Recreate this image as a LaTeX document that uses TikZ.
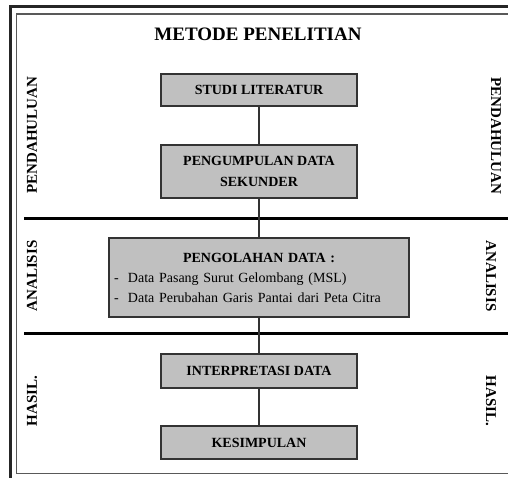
\documentclass[tikz,border=0pt]{standalone}
\usepackage{fontspec}
\setmainfont{Liberation Serif}
\usetikzlibrary{positioning}
\definecolor{boxgray}{RGB}{192,192,192}
\tikzset{
  stepbox/.style={draw=black!80, line width=1.3pt, fill=boxgray, minimum width=196pt, inner sep=2pt, align=center, font=\fontsize{14}{21}\selectfont\bfseries},
  link/.style={draw=black!80, line width=1.8pt},
  divider/.style={line width=3pt},
  sidelabel/.style={font=\fontsize{15}{16}\selectfont\bfseries}
}

\begin{document}
\begin{tikzpicture}[x=1pt, y=-1pt]
    \useasboundingbox (0,0) rectangle (508,478);
    \draw[black!85, line width=2.6pt] (10.5,520) -- (10.5,6.5) -- (520,6.5);
    \draw[black!65, line width=1.8pt] (520,473.5) -- (16.5,473.5) -- (16.5,14) -- (520,14);
    \node[font=\fontsize{19}{22}\selectfont\bfseries] (title) at (258,34) {METODE PENELITIAN};
    \node[stepbox, minimum height=32pt] (Studi) at (259,90) {STUDI LITERATUR};
    \node[stepbox, minimum height=53pt] (Kumpul) at (259,171.5) {PENGUMPULAN DATA\\SEKUNDER};
    \node[stepbox, minimum width=300pt, minimum height=79pt, text width=290pt, align=left, font=\fontsize{14}{20}\selectfont] (Olah) at (259,277.5)
      {\makebox[\linewidth][c]{\bfseries PENGOLAHAN DATA :}\\- \ Data Pasang Surut Gelombang (MSL)\\- \ Data Perubahan Garis Pantai dari Peta Citra};
    \node[stepbox, minimum height=34pt] (Interp) at (259,371) {INTERPRETASI DATA};
    \node[stepbox, minimum height=33pt] (Simpul) at (259,442.5) {KESIMPULAN};
    \draw[divider] (24,219) -- (520,219);
    \draw[divider] (24,333) -- (520,333);
    \draw[link] (Studi) -- (Kumpul);
    \draw[link] (Kumpul) -- (Olah);
    \draw[link] (Olah) -- (Interp);
    \draw[link] (Interp) -- (Simpul);
    \node[sidelabel, rotate=90] (PendL) at (32,135) {PENDAHULUAN};
    \node[sidelabel, rotate=-90] (PendR) at (496,136) {PENDAHULUAN};
    \node[sidelabel, rotate=90] (AnaL) at (32,276) {ANALISIS};
    \node[sidelabel, rotate=-90] (AnaR) at (491,276) {ANALISIS};
    \node[sidelabel, rotate=90] (HasilL) at (32,401) {HASIL.};
    \node[sidelabel, rotate=-90] (HasilR) at (491,401) {HASIL.};
\end{tikzpicture}
\end{document}
